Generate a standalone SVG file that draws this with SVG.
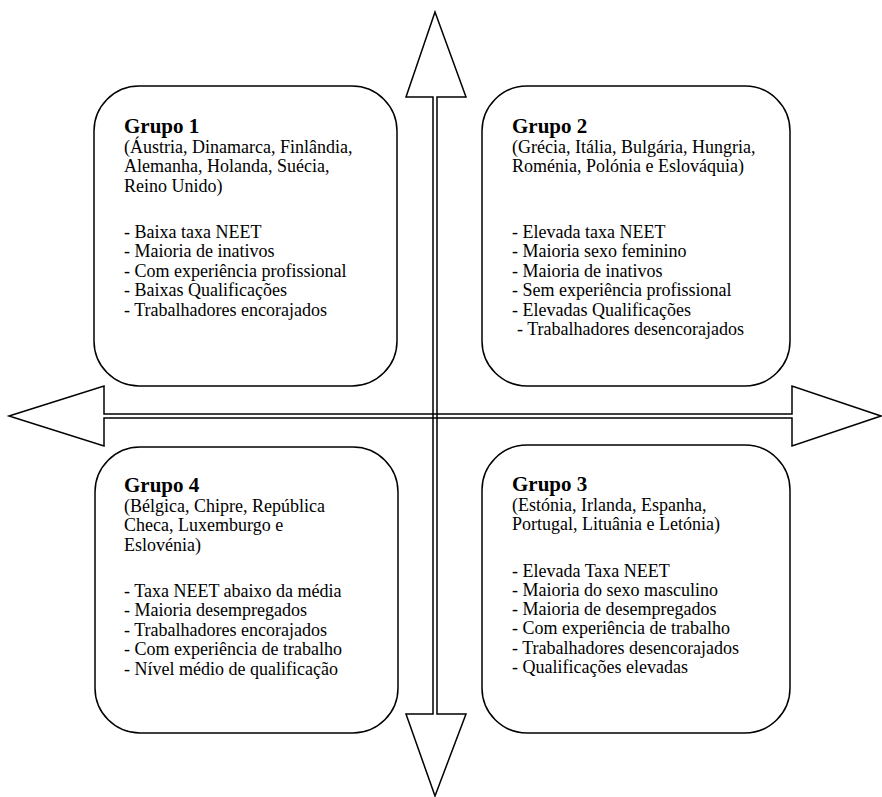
<svg xmlns="http://www.w3.org/2000/svg" width="882" height="797" viewBox="0 0 882 797">
<style>
.box{fill:#fff;stroke:#000;stroke-width:1.5}
.arr{fill:none;stroke:#000;stroke-width:1.5;stroke-linejoin:miter}
text{font-family:"Liberation Serif","Times New Roman",serif;fill:#000}
.t{font-size:21px;font-weight:bold}
.b{font-size:18px}
</style>
<rect width="882" height="797" fill="#fff"/>
<g id="connectors">
<path class="arr" d="M435,12 L466,97 L437,97 L437,714 L466,714 L435,796 L406,714 L433,714 L433,97 L406,97 Z"/>
<path class="arr" d="M9,416 L104,386 L104,414 L792,414 L792,386 L881,416 L792,446 L792,418 L104,418 L104,446 Z"/>
</g>
<g id="grupo1">
<rect class="box" x="94" y="86" width="303" height="300" rx="45" ry="45"/>
<text class="t" x="124" y="133">Grupo 1</text>
<text class="b" x="124" y="153">(Áustria, Dinamarca, Finlândia,</text>
<text class="b" x="124" y="172">Alemanha, Holanda, Suécia,</text>
<text class="b" x="124" y="192">Reino Unido)</text>
<text class="b" x="124" y="238">- Baixa taxa NEET</text>
<text class="b" x="124" y="257">- Maioria de inativos</text>
<text class="b" x="124" y="277">- Com experiência profissional</text>
<text class="b" x="124" y="296">- Baixas Qualificações</text>
<text class="b" x="124" y="316">- Trabalhadores encorajados</text>
</g>
<g id="grupo2">
<rect class="box" x="482" y="86" width="308" height="300" rx="45" ry="45"/>
<text class="t" x="512" y="133">Grupo 2</text>
<text class="b" x="512" y="153">(Grécia, Itália, Bulgária, Hungria,</text>
<text class="b" x="512" y="172">Roménia, Polónia e Eslováquia)</text>
<text class="b" x="512" y="238">- Elevada taxa NEET</text>
<text class="b" x="512" y="257">- Maioria sexo feminino</text>
<text class="b" x="512" y="277">- Maioria de inativos</text>
<text class="b" x="512" y="296">- Sem experiência profissional</text>
<text class="b" x="512" y="316">- Elevadas Qualificações</text>
<text class="b" x="517" y="335">- Trabalhadores desencorajados</text>
</g>
<g id="grupo4">
<rect class="box" x="95" y="447" width="303" height="286" rx="45" ry="45"/>
<text class="t" x="124" y="492">Grupo 4</text>
<text class="b" x="124" y="512">(Bélgica, Chipre, República</text>
<text class="b" x="124" y="531">Checa, Luxemburgo e</text>
<text class="b" x="124" y="551">Eslovénia)</text>
<text class="b" x="124" y="597">- Taxa NEET abaixo da média</text>
<text class="b" x="124" y="616">- Maioria desempregados</text>
<text class="b" x="124" y="636">- Trabalhadores encorajados</text>
<text class="b" x="124" y="655">- Com experiência de trabalho</text>
<text class="b" x="124" y="675">- Nível médio de qualificação</text>
</g>
<g id="grupo3">
<rect class="box" x="482" y="445" width="308" height="288" rx="45" ry="45"/>
<text class="t" x="512" y="491">Grupo 3</text>
<text class="b" x="512" y="511">(Estónia, Irlanda, Espanha,</text>
<text class="b" x="512" y="530">Portugal, Lituânia e Letónia)</text>
<text class="b" x="512" y="577">- Elevada Taxa NEET</text>
<text class="b" x="512" y="596">- Maioria do sexo masculino</text>
<text class="b" x="512" y="615">- Maioria de desempregados</text>
<text class="b" x="512" y="634">- Com experiência de trabalho</text>
<text class="b" x="512" y="654">- Trabalhadores desencorajados</text>
<text class="b" x="512" y="673">- Qualificações elevadas</text>
</g>
</svg>
